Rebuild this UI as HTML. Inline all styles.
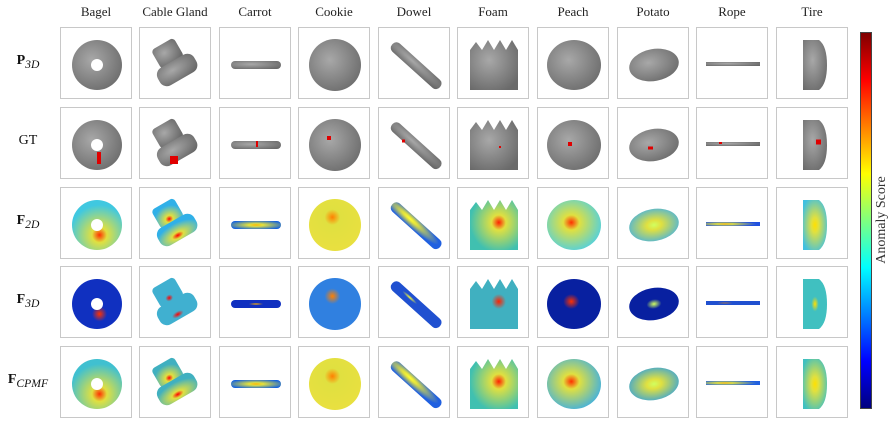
<!DOCTYPE html>
<html><head><meta charset="utf-8"><style>
html,body{margin:0;padding:0;background:#fff;width:895px;height:429px;overflow:hidden;font-family:"Liberation Serif",serif;}
#fig{position:absolute;left:0;top:0;width:895px;height:429px;}
.hdr{position:absolute;top:4px;width:100px;text-align:center;font-size:13px;color:#222;}
.rl{position:absolute;left:0;width:56px;text-align:center;font-size:14px;color:#111;}
.box{position:absolute;width:72px;height:72px;border:1px solid #c8c8c8;box-sizing:border-box;}
.box svg{position:absolute;left:0;top:0;}
#cbar{position:absolute;left:860px;top:32px;width:12px;height:377px;border:1px solid #444;box-sizing:border-box;
background:linear-gradient(to top,#00007f 0%,#0000ff 12.5%,#0080ff 25%,#00ffff 37.5%,#7fff7f 50%,#ffff00 62.5%,#ff8000 75%,#ff0000 87.5%,#7f0000 100%);}
#cbt{position:absolute;left:817px;top:212px;width:130px;text-align:center;transform:rotate(-90deg);font-size:14px;color:#333;}
</style></head><body>
<div id="fig">
<div id="cbar"></div>
<div id="cbt">Anomaly Score</div>
</div>
<script>
const categories=["Bagel","Cable Gland","Carrot","Cookie","Dowel","Foam","Peach","Potato","Rope","Tire"];
const rowLabels=["<b>P</b><sub><i>3D</i></sub>","GT","<b>F</b><sub><i>2D</i></sub>","<b>F</b><sub><i>3D</i></sub>","<b>F</b><sub><i>CPMF</i></sub>"];
const colLeft=[60,139,219,298,378,457,537,617,696,776];
const rowTop=[27,107,187,266,346];
const baseF2D=["#40c8e0","#30b0e8","#1060e0","#e8e040","#2060e0","#40c0b0","#50d0e0","#40b0e8","#2050e0","#40c0e0"];
const baseF3D=["#1030c0","#40b0d0","#1030c0","#3080e0","#2050d0","#40b0c0","#0820a0","#0820a0","#2050d0","#40c0c0"];
const baseCPMF=["#40c0d0","#40b0c0","#1060e0","#e8e040","#2060e0","#40c0b0","#40b0e0","#30a0e0","#2060e0","#40c0c0"];
const hot=[["#ff3000",0.55,0.7],["#ff0000",0.45,0.75],["#ffb000",0.5,0.5],["#ff8000",0.45,0.35],["#ffff30",0.35,0.4],["#ff2000",0.6,0.45],["#ff3000",0.45,0.45],["#d0ff60",0.5,0.5],["#ff9000",0.35,0.5],["#ffe000",0.5,0.5]];
const fig=document.getElementById('fig');
const NS="http://www.w3.org/2000/svg";
function shape(c,fill){
 switch(c){
 case 0:return `<circle cx="36" cy="37" r="25" fill="${fill}"/><circle cx="36" cy="37" r="6" fill="#fff"/>`;
 case 1:return `<g transform="rotate(-30 36 38)"><rect x="22" y="12" width="26" height="22" rx="4" fill="${fill}"/><rect x="14" y="32" width="42" height="20" rx="8" fill="${fill}"/></g>`;
 case 2:return `<rect x="11" y="33" width="50" height="8" rx="4" fill="${fill}"/>`;
 case 3:return `<circle cx="36" cy="37" r="26" fill="${fill}"/>`;
 case 4:return `<rect x="6" y="31" width="64" height="11" rx="5" transform="rotate(42 36 36)" fill="${fill}"/>`;
 case 5:return `<path d="M12 62 L12 22 L18 14 L24 22 L30 12 L36 22 L42 12 L48 22 L54 12 L60 22 L60 62 Z" fill="${fill}"/>`;
 case 6:return `<ellipse cx="36" cy="37" rx="27" ry="25" fill="${fill}"/>`;
 case 7:return `<ellipse cx="36" cy="37" rx="25" ry="16" transform="rotate(-10 36 37)" fill="${fill}"/>`;
 case 8:return `<rect x="9" y="34" width="54" height="4" fill="${fill}"/>`;
 case 9:return `<path d="M26 12 L42 12 Q50 18 50 37 Q50 56 42 62 L26 62 Z" fill="${fill}"/>`;
 }
}
categories.forEach((name,c)=>{
 const h=document.createElement('div');h.className='hdr';h.textContent=name;
 h.style.left=(colLeft[c]+36-50)+'px';
 
 
 fig.appendChild(h);
});
rowLabels.forEach((lab,r)=>{
 const l=document.createElement('div');l.className='rl';l.innerHTML=lab;
 l.style.top=(rowTop[r]+26)+'px';
 
 
 fig.appendChild(l);
 categories.forEach((name,c)=>{
  const b=document.createElement('div');b.className='box';
  b.style.left=colLeft[c]+'px';b.style.top=rowTop[r]+'px';
  
  
  let defs='',fill='#8a8a8a',extra='';
  if(r>=2){
   const base=[baseF2D,baseF3D,baseCPMF][r-2][c];
   const hs=hot[c];const id='g'+r+'_'+c;
   defs=`<defs><radialGradient id="${id}" cx="${hs[1]}" cy="${hs[2]}" r="0.6"><stop offset="0" stop-color="${hs[0]}"/><stop offset="0.25" stop-color="${r==3?base:'#e0e040'}"/><stop offset="1" stop-color="${base}"/></radialGradient></defs>`;
   fill=`url(#${id})`;
  } else {
   defs=`<defs><radialGradient id="gg${r}_${c}" cx="0.4" cy="0.4" r="0.7"><stop offset="0" stop-color="#a8a8a8"/><stop offset="1" stop-color="#6a6a6a"/></radialGradient></defs>`;
   fill=`url(#gg${r}_${c})`;
   if(r===1){
    const m=[[36,50,4,12],[30,52,8,8],[36,36,2,6],[28,30,4,4],[23,33,3,3],[41,39,2,2],[30,36,4,4],[30,40,5,3],[22,35,3,2],[39,34,5,5]][c];
    extra=`<rect x="${m[0]}" y="${m[1]-m[3]/2}" width="${m[2]}" height="${m[3]}" fill="#e00000"/>`;
   }
  }
  b.innerHTML=`<svg width="72" height="72" xmlns="${NS}">${defs}${shape(c,fill)}${extra}</svg>`;
  fig.appendChild(b);
 });
});
</script>
</body></html>
